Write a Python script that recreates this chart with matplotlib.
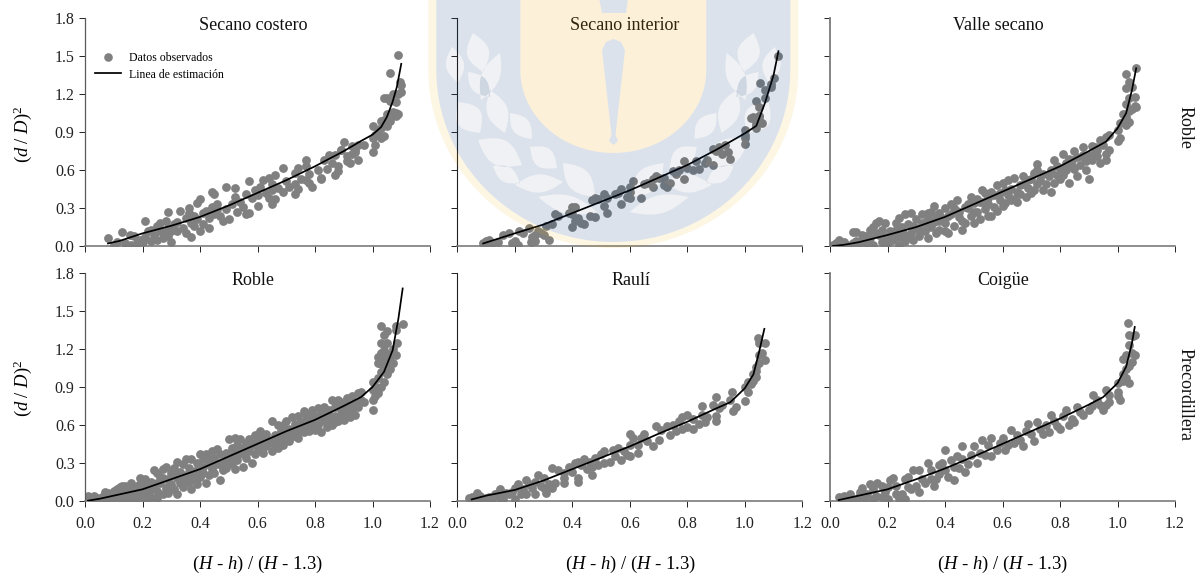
import numpy as np
import matplotlib
matplotlib.use("Agg")
import matplotlib.pyplot as plt
from matplotlib.path import Path
from matplotlib.patches import PathPatch
from matplotlib.transforms import Affine2D
from matplotlib.lines import Line2D

W, H = 1195, 575
plt.rcParams['font.family'] = ['Liberation Serif', 'DejaVu Serif']
plt.rcParams['mathtext.fontset'] = 'custom'
plt.rcParams['mathtext.rm'] = 'Liberation Serif'
plt.rcParams['mathtext.it'] = 'Liberation Serif:italic'

x_ticks = [0.0, 0.2, 0.4, 0.6, 0.8, 1.0, 1.2]
y_ticks = [0.0, 0.3, 0.6, 0.9, 1.2, 1.5, 1.8]

titles = ['Secano costero', 'Secano interior', 'Valle secano', 'Roble', 'Raulí', 'Coigüe']
row_labels = ['Roble', 'Precordillera']

obs_costero = [(.08,.06),(.10,.01),(.11,.03),(.13,.11),(.14,.02),(.155,.09),(.16,.01),(.17,.08),(.18,.02),(.19,.05),(.20,.03),(.21,.07),(.21,.20),(.22,.12),(.23,.13),(.23,.04),(.24,.09),(.25,.05),(.25,.16),(.26,.12),(.26,.18),(.27,.10),(.27,.06),(.28,.20),(.29,.14),(.29,.08),(.30,.03),(.30,.12),(.29,.27),(.31,.17),(.32,.12),(.32,.19),(.33,.28),(.34,.14),(.35,.10),(.35,.22),(.36,.26),(.36,.30),(.37,.07),(.37,.18),(.38,.24),(.38,.16),(.39,.34),(.39,.21),(.40,.12),(.41,.17),(.41,.26),(.42,.28),(.43,.14),(.43,.22),(.40,.37),(.44,.31),(.45,.25),(.46,.29),(.46,.33),(.47,.24),(.48,.20),(.44,.43),(.45,.41),(.49,.29),(.50,.21),(.51,.33),(.49,.47),(.52,.39),(.53,.27),(.54,.35),(.52,.46),(.55,.31),(.56,.41),(.57,.26),(.56,.25),(.58,.38),(.57,.51),(.59,.44),(.60,.32),(.60,.40),(.61,.47),(.62,.52),(.63,.42),(.64,.54),(.64,.38),(.65,.49),(.65,.44),(.66,.37),(.65,.33),(.67,.46),(.66,.56),(.69,.43),(.70,.51),(.71,.47),(.69,.62),(.73,.58),(.73,.49),(.74,.45),(.74,.62),(.75,.53),(.73,.41),(.77,.63),(.77,.52),(.78,.57),(.78,.50),(.79,.47),(.77,.68),(.81,.60),(.82,.54),(.83,.68),(.82,.53),(.84,.61),(.85,.72),(.86,.66),(.87,.72),(.88,.63),(.87,.56),(.89,.76),(.88,.59),(.91,.71),(.92,.66),(.89,.76),(.90,.82),(.93,.73),(.91,.67),(.93,.79),(.94,.76),(.95,.80),(.95,.68),(.94,.74),(.97,.80),
(1.00,.74),(1.00,.85),(1.00,.95),(1.01,.88),(1.01,.80),(1.02,.91),(1.03,.85),(1.03,.93),(1.03,.99),(1.04,.87),(1.04,1.00),(1.05,.95),(1.04,1.17),(1.05,1.04),(1.05,1.17),(1.06,1.01),(1.06,1.15),(1.07,1.06),(1.06,.99),(1.06,1.37),(1.08,1.03),(1.07,1.20),(1.08,1.05),(1.08,1.14),(1.09,1.04),(1.10,1.22),(1.087,1.51),(1.095,1.30),(1.10,1.27),(1.09,1.20)]

obs_interior = [(.09,.02),(.10,.04),(.10,.01),(.11,.05),(.12,.02),(.14,.03),(.16,.09),(.18,.10),(.19,.02),(.20,.04),(.21,.01),(.215,.12),(.23,.10),(.25,.14),(.255,.03),(.26,.07),(.27,.04),(.27,.09),(.28,.12),(.29,.10),(.30,.09),(.31,.16),(.32,.05),(.33,.17),(.34,.25),(.35,.24),(.39,.26),(.40,.31),(.41,.31),(.40,.25),(.40,.15),(.41,.20),(.42,.22),(.43,.18),(.44,.17),(.46,.24),(.48,.23),(.47,.36),(.48,.38),(.49,.37),(.51,.41),(.51,.32),(.52,.26),(.52,.38),(.55,.41),(.56,.42),(.57,.45),(.57,.33),(.59,.39),(.60,.47),(.60,.43),(.60,.38),(.61,.51),(.64,.38),(.65,.49),(.66,.50),(.68,.47),(.68,.53),(.69,.55),(.70,.54),(.72,.54),(.72,.48),(.73,.47),(.74,.50),(.75,.59),(.77,.60),(.76,.57),(.79,.53),(.79,.67),(.80,.62),(.82,.60),(.83,.67),(.84,.61),(.86,.66),(.87,.68),(.89,.64),(.89,.77),(.90,.75),(.91,.78),(.92,.73),(.93,.80),(.94,.74),(.95,.69),(1.0,.92),(1.0,.88),(1.0,.81),(1.0,.85),(1.02,1.01),(1.03,1.02),(1.04,.96),(1.04,.93),(1.05,1.03),(1.06,.97),(1.04,.98),(1.05,1.0),(1.04,1.15),(1.05,1.10),(1.05,1.03),(1.053,1.29),(1.07,1.23),(1.07,1.17),(1.09,1.28),(1.10,1.33),(1.09,1.26),(1.115,1.50)]

obs_valle = [(.01,.01),(.02,.02),(.03,.05),(.04,.01),(.05,.03),(.06,.01),(.08,.11),(.09,.11),(.08,.02),(.09,.04),(.10,.02),(.11,.05),(.12,.03),(.13,.02),(.14,.13),(.14,.06),(.15,.15),(.15,.01),(.16,.18),(.17,.20),(.17,.09),(.18,.13),(.18,.03),(.19,.18),(.19,.07),(.20,.02),(.21,.12),(.22,.05),(.22,.10),(.23,.13),(.24,.07),(.24,.01),(.24,.22),(.25,.12),(.26,.04),(.26,.09),(.26,.25),(.27,.17),(.28,.26),(.28,.10),(.29,.05),(.30,.14),(.30,.21),(.31,.08),(.32,.18),(.32,.25),(.33,.12),(.34,.06),(.34,.22),(.35,.27),(.35,.15),(.36,.19),(.37,.10),(.36,.32),(.38,.26),(.38,.13),(.39,.22),(.40,.30),(.40,.18),(.41,.10),(.42,.33),(.42,.25),(.43,.16),(.44,.36),(.44,.28),(.45,.23),(.46,.13),(.46,.20),(.47,.31),(.48,.30),(.49,.39),(.49,.24),(.50,.34),(.50,.18),(.51,.27),(.52,.21),(.53,.35),(.53,.44),(.54,.42),(.54,.29),(.55,.38),(.56,.43),(.56,.24),(.57,.31),(.58,.28),(.58,.48),(.59,.36),(.60,.32),(.60,.50),(.61,.44),(.62,.40),(.62,.52),(.63,.36),(.64,.54),(.65,.43),(.65,.35),(.66,.48),(.67,.55),(.68,.39),(.69,.46),(.70,.42),(.71,.58),(.72,.49),(.73,.52),(.74,.44),(.72,.65),(.72,.60),(.76,.55),(.77,.43),(.78,.68),(.78,.50),(.79,.63),(.80,.53),(.81,.56),(.81,.73),(.82,.60),(.83,.50),(.83,.69),(.84,.63),(.85,.75),(.86,.70),(.86,.55),(.87,.64),(.88,.78),(.88,.70),(.89,.60),(.90,.72),(.90,.53),(.91,.79),(.92,.78),(.93,.71),(.94,.84),(.94,.66),(.95,.80),(.96,.86),(.96,.73),(.97,.88),(.97,.76),(.96,.68),
(.12,.08),(.16,.10),(.20,.07),(.25,.15),(.29,.16),(.33,.18),(.37,.22),(.41,.24),(.45,.27),(.48,.33),(.52,.35),(.55,.33),(.59,.42),(.63,.45),(.67,.49),(.70,.53),(.74,.57),(.77,.60),(.80,.62),(.84,.68),(.88,.72),(.92,.74),
(.11,.09),(.18,.08),(.23,.18),(.27,.07),(.31,.13),(.34,.26),(.38,.20),(.40,.12),(.43,.30),(.47,.18),(.50,.27),(.51,.37),(.55,.24),(.57,.40),(.61,.34),(.64,.37),(.66,.41),(.69,.52),(.71,.44),(.75,.49),(.79,.56),(.82,.66),(.85,.61),(.89,.67),(.91,.68),(.93,.76),
(1.0,.83),(1.0,.92),(1.01,.85),(1.01,.97),(1.02,1.04),(1.02,.98),(1.03,1.12),(1.03,1.02),(1.04,1.07),(1.04,.98),(1.03,.96),(1.03,1.25),(1.03,1.36),(1.04,1.30),(1.04,1.17),(1.05,1.08),(1.05,1.26),(1.06,1.18),(1.06,1.11),(1.065,1.41),(1.065,1.10)]

obs_roble = [(.01,.04),(.02,.01),(.03,.04),(.03,.01),(.04,.02),(.05,.00),(.06,.03),(.07,.07),(.07,.01),(.08,.06),(.09,.03),(.09,.00),(.10,.08),(.10,.04),(.11,.09),(.11,.01),(.12,.05),(.12,.11),(.13,.03),(.13,.08),(.14,.00),(.14,.12),(.15,.06),(.15,.03),(.16,.14),(.16,.09),(.17,.01),(.17,.05),(.18,.12),(.18,.02),(.19,.18),(.19,.08),(.20,.04),(.20,.14),(.21,.17),(.21,.01),(.22,.10),(.22,.06),(.23,.15),(.23,.03),(.24,.24),(.24,.12),(.25,.22),(.25,.08),(.25,.02),(.26,.19),(.26,.14),(.27,.25),(.27,.05),(.28,.10),(.28,.27),(.29,.17),(.29,.06),(.30,.22),(.30,.13),(.31,.26),(.31,.09),(.32,.31),(.32,.18),(.32,.05),(.33,.23),(.33,.14),(.34,.29),(.34,.11),(.35,.33),(.35,.20),(.36,.26),(.36,.15),(.37,.33),(.37,.09),(.38,.23),(.38,.17),(.39,.30),(.39,.13),(.40,.37),(.40,.26),(.40,.19),(.41,.33),(.41,.22),(.42,.37),(.42,.14),(.43,.29),(.43,.20),(.44,.39),(.44,.25),(.45,.34),(.45,.22),(.46,.41),(.46,.29),(.47,.16),(.47,.37),(.48,.26),(.48,.24),(.49,.38),(.49,.32),(.50,.49),(.50,.29),(.51,.42),(.51,.35),(.52,.50),(.52,.25),(.53,.44),(.53,.32),(.54,.49),(.54,.38),(.55,.27),(.55,.42),(.56,.46),(.56,.34),(.57,.49),(.57,.39),(.58,.30),(.58,.44),(.59,.52),(.59,.37),(.60,.47),(.60,.41),(.61,.55),(.61,.44),(.62,.49),(.62,.38),(.63,.53),(.63,.43),(.64,.48),(.65,.63),(.65,.39),(.66,.52),(.66,.45),(.67,.60),(.67,.42),(.68,.55),(.68,.48),(.69,.60),(.69,.44),(.70,.63),(.70,.52),(.71,.57),(.71,.47),(.72,.66),(.72,.51),(.73,.61),(.73,.55),(.74,.67),(.74,.50),(.75,.59),(.75,.62),(.76,.71),(.76,.54),(.77,.64),(.77,.58),(.78,.68),(.78,.55),(.79,.72),(.79,.62),(.80,.67),(.80,.56),(.81,.73),(.81,.60),(.82,.69),(.82,.54),(.83,.74),(.83,.63),(.84,.67),(.84,.58),(.85,.72),(.85,.62),(.86,.80),(.86,.60),(.87,.74),(.87,.67),(.88,.80),(.88,.63),(.89,.72),(.89,.68),(.90,.78),(.90,.64),(.91,.81),(.91,.70),(.92,.75),(.92,.66),(.93,.83),(.93,.70),(.94,.78),(.94,.68),(.95,.85),(.95,.74),(.96,.86),(.96,.80),(.97,.78),
(.13,.12),(.15,.10),(.17,.10),(.19,.13),(.21,.09),(.23,.09),(.25,.14),(.27,.18),(.29,.12),(.31,.20),(.33,.19),(.35,.15),(.37,.21),(.39,.24),(.41,.27),(.43,.33),(.45,.29),(.47,.30),(.49,.26),(.51,.30),(.53,.38),(.55,.37),(.57,.44),(.59,.46),(.61,.49),(.63,.48),(.65,.46),(.67,.50),(.69,.52),(.71,.52),(.73,.51),(.75,.55),(.77,.68),(.79,.57),(.81,.66),(.83,.68),(.85,.66),(.87,.62),(.89,.76),(.91,.75),(.93,.76),
(1.0,.72),(1.0,.80),(1.0,.88),(1.0,.94),(1.01,.83),(1.01,.91),(1.02,.85),(1.02,.97),(1.02,1.09),(1.02,1.14),(1.03,.90),(1.03,1.02),(1.03,1.38),(1.03,1.25),(1.03,1.08),(1.03,1.17),(1.04,.94),(1.04,1.12),(1.04,1.05),(1.04,1.19),(1.04,1.31),(1.05,1.0),(1.05,1.25),(1.05,1.10),(1.05,1.16),(1.05,1.34),(1.06,1.14),(1.06,1.04),(1.07,1.20),(1.07,1.09),(1.08,1.15),(1.08,1.35),(1.085,1.25),(1.08,1.38),(1.105,1.40)]

obs_rauli = [(.04,.02),(.05,.03),(.06,.02),(.07,.06),(.08,.00),(.08,.04),(.10,.02),(.11,.03),(.12,.01),(.13,.05),(.14,.06),(.15,.09),(.15,.02),(.16,.01),(.17,.06),(.18,.05),(.19,.07),(.20,.01),(.20,.10),(.21,.13),(.22,.05),(.23,.09),(.24,.16),(.24,.05),(.25,.13),(.26,.10),(.27,.05),(.27,.15),(.28,.20),(.29,.12),(.30,.18),(.30,.10),(.31,.06),(.32,.13),(.33,.10),(.33,.26),(.34,.14),(.35,.24),(.37,.22),(.37,.14),(.37,.18),(.39,.27),(.40,.23),(.41,.30),(.42,.31),(.42,.18),(.42,.15),(.43,.28),(.44,.33),(.45,.25),(.46,.31),(.47,.27),(.47,.20),(.48,.34),(.49,.28),(.50,.37),(.51,.39),(.51,.30),(.53,.31),(.54,.40),(.55,.35),(.56,.42),(.57,.32),(.58,.39),(.59,.36),(.60,.53),(.60,.44),(.60,.35),(.61,.50),(.63,.38),(.63,.44),(.64,.50),(.65,.53),(.66,.47),(.68,.43),(.69,.59),(.70,.48),(.71,.56),(.73,.59),(.74,.52),(.75,.60),(.76,.55),(.77,.63),(.78,.57),(.78,.66),(.80,.68),(.80,.58),(.82,.65),(.82,.57),(.84,.61),(.85,.75),(.85,.68),(.86,.62),(.87,.66),(.89,.76),(.90,.82),(.90,.67),(.90,.63),(.91,.73),(.92,.76),(.95,.80),(.955,.86),(.96,.71),(.97,.74),(1.0,.79),(1.0,.90),(1.01,.94),(1.01,.86),(1.02,.92),(1.03,1.0),(1.03,.95),(1.04,1.06),(1.04,.98),(1.05,1.09),(1.05,1.15),(1.05,1.25),(1.047,1.29),(1.06,1.17),(1.07,1.11),(1.07,1.25),(1.04,1.03)]

obs_coigue = [(.03,.03),(.04,.02),(.05,.04),(.06,.02),(.07,.05),(.08,.01),(.09,.00),(.10,.03),(.105,.07),(.11,.10),(.12,.02),(.13,.05),(.14,.13),(.15,.01),(.15,.09),(.16,.04),(.165,.14),(.18,.12),(.18,.03),(.19,.07),(.20,.01),(.20,.11),(.21,.16),(.22,.18),(.23,.05),(.23,.12),(.24,.02),(.25,.05),(.26,.01),(.26,.17),(.27,.11),(.27,.19),(.28,.09),(.29,.24),(.30,.12),(.31,.07),(.31,.24),(.32,.17),(.33,.14),(.34,.30),(.35,.17),(.35,.24),(.36,.12),(.37,.17),(.38,.28),(.38,.21),(.39,.30),(.40,.40),(.40,.24),(.41,.19),(.42,.32),(.43,.27),(.43,.16),(.44,.35),(.45,.26),(.46,.43),(.46,.33),(.47,.23),(.48,.29),(.49,.36),(.50,.43),(.51,.30),(.52,.38),(.53,.48),(.54,.36),(.55,.44),(.56,.35),(.56,.50),(.58,.40),(.59,.46),(.60,.50),(.61,.40),(.62,.44),(.63,.56),(.64,.46),(.65,.52),(.66,.48),(.67,.43),(.68,.55),(.69,.61),(.70,.53),(.71,.47),(.72,.62),(.73,.57),(.74,.53),(.75,.60),(.76,.54),(.77,.68),(.78,.63),(.79,.59),(.80,.57),(.81,.67),(.82,.72),(.83,.60),(.84,.65),(.85,.62),(.86,.74),(.87,.70),(.88,.68),(.90,.72),(.91,.75),(.915,.84),(.93,.80),(.94,.76),(.95,.72),(.96,.76),(.96,.88),(.97,.84),(.97,.78),(1.0,.86),(1.0,.83),(1.0,.93),(1.01,.80),(1.02,1.0),(1.02,.95),(1.02,1.12),(1.03,1.04),(1.03,1.15),(1.03,.97),(1.04,1.07),(1.04,1.23),(1.04,.93),(1.05,1.10),(1.035,1.41),(1.04,1.31),(1.055,1.30),(1.06,1.31),(1.06,1.15),(1.05,1.17)]

line_costero_x = [.08,.12,.2,.3,.4,.5,.6,.7,.8,.9,.96,1.0,1.03,1.05,1.07,1.085,1.10]
line_costero_y = [.02,.04,.10,.16,.23,.32,.42,.52,.63,.75,.83,.88,.94,1.02,1.14,1.26,1.44]
line_interior_x = [.09,.2,.3,.4,.5,.6,.7,.8,.9,1.0,1.04,1.07,1.10,1.117]
line_interior_y = [.02,.10,.17,.26,.35,.44,.54,.64,.76,.89,.95,1.13,1.35,1.54]
line_valle_x = [.01,.05,.1,.2,.3,.4,.5,.6,.7,.8,.9,.96,1.0,1.03,1.05,1.065]
line_valle_y = [.00,.01,.03,.087,.15,.23,.33,.43,.53,.63,.75,.825,.93,1.05,1.23,1.405]
line_roble_x = [.01,.05,.1,.2,.3,.4,.5,.6,.7,.8,.9,.96,1.0,1.04,1.07,1.09,1.105]
line_roble_y = [.00,.015,.04,.09,.17,.25,.35,.45,.55,.64,.75,.82,.90,1.02,1.19,1.44,1.68]
line_rauli_x = [.05,.1,.2,.3,.4,.5,.6,.7,.8,.9,.95,1.0,1.03,1.05,1.068]
line_rauli_y = [.01,.04,.085,.16,.25,.34,.43,.53,.625,.73,.78,.89,1.0,1.18,1.36]
line_coigue_x = [.03,.1,.2,.3,.4,.5,.6,.7,.8,.9,.95,1.0,1.03,1.05,1.06]
line_coigue_y = [.005,.04,.09,.17,.255,.35,.45,.55,.65,.76,.82,.93,1.06,1.245,1.375]

observed = [obs_costero, obs_interior, obs_valle, obs_roble, obs_rauli, obs_coigue]
lines = [(line_costero_x, line_costero_y), (line_interior_x, line_interior_y), (line_valle_x, line_valle_y),
         (line_roble_x, line_roble_y), (line_rauli_x, line_rauli_y), (line_coigue_x, line_coigue_y)]

fig = plt.figure(figsize=(W / 100, H / 100), dpi=100, facecolor='white')

def fx(x): return x / W
def fy(y): return 1 - y / H

col_left = [85, 457.3, 830]
col_w = 345
row_top = [18.3, 273.3]
row_bot = [246, 500.7]
left_style = [('#5a5a5a', 0.9), ('#202020', 0.8), ('#7a7a7a', 1.3)]
title_x = [253, 625, 998, 253, 631, 1003]
title_y = [25, 25, 25, 281, 281, 281]

axes = []
for i in range(6):
    r, c = divmod(i, 3)
    ax = fig.add_axes([fx(col_left[c]), fy(row_bot[r]), col_w / W, (row_bot[r] - row_top[r]) / H])
    ax.patch.set_alpha(0)
    pts = np.array(observed[i])
    ax.scatter(pts[:, 0], pts[:, 1], s=40, color='#808080', linewidths=0, zorder=2, label='Datos observados')
    ax.plot(lines[i][0], lines[i][1], color='black', lw=1.25, zorder=3, label='Linea de estimación')
    ax.set_xlim(0, 1.2)
    ax.set_ylim(0, 1.8)
    ax.set_xticks(x_ticks)
    ax.set_yticks(y_ticks)
    ax.spines[['top', 'right']].set_visible(False)
    ax.spines['bottom'].set_color('#7a7a7a')
    ax.spines['bottom'].set_linewidth(1.2)
    ax.spines['left'].set_color(left_style[c][0])
    ax.spines['left'].set_linewidth(left_style[c][1])
    ax.tick_params(axis='x', direction='out', length=4.2, width=0.7, color='#222222', pad=6.5, labelsize=11.5,
                   labelcolor='#222222', labelbottom=(r == 1))
    ax.tick_params(axis='y', direction='out', length=4.2, width=0.7, color='#222222', pad=3.2, labelsize=11.5,
                   labelcolor='#222222', labelleft=(c == 0))
    if r == 1:
        ax.set_xticklabels([f'{t:.1f}' for t in x_ticks])
    if c == 0:
        ax.set_yticklabels([f'{t:.1f}' for t in y_ticks])
    fig.text(fx(title_x[i]), fy(title_y[i]), titles[i], ha='center', va='center', fontsize=13, color='#111111')
    axes.append(ax)

handles = [Line2D([], [], ls='none', marker='o', ms=6.2, color='#808080', mew=0),
           Line2D([], [], color='black', lw=1.25)]
axes[0].legend(handles, ['Datos observados', 'Linea de estimación'], loc='upper left',
               bbox_to_anchor=(0.029, 0.85), frameon=False, fontsize=8.5, handlelength=2.2,
               handletextpad=0.68, labelspacing=0.35, borderpad=0, borderaxespad=0)

ylab = r'$(\mathit{d}\ /\ \mathit{D})^2$'
xlab = r'($\mathit{H}$ - $\mathit{h}$) / ($\mathit{H}$ - 1.3)'
for yc in (134, 388):
    fig.text(fx(23), fy(yc), ylab, rotation=90, ha='center', va='center', fontsize=13.4)
for xc in (257, 630, 1002):
    fig.text(fx(xc), fy(564), xlab, ha='center', va='center', fontsize=13.4)
fig.text(fx(1185), fy(127), row_labels[0], rotation=270, ha='center', va='center', fontsize=13, color='#111111')
fig.text(fx(1185), fy(394), row_labels[1], rotation=270, ha='center', va='center', fontsize=13, color='#111111')

# faint institutional watermark laid over the page (reference pixel coordinates)
CX = 613.3
to_fig = Affine2D().scale(1 / W, -1 / H).translate(0, 1) + fig.transFigure

def shield(a, b, y0=70.0, top=-2.0):
    t = np.linspace(0, np.pi, 60)
    xs = CX + a * np.cos(t)
    ys = y0 + b * np.sin(t)
    return np.vstack([[CX + a, top], np.column_stack([xs, ys]), [CX - a, top]])

def leaf(x1, y1, x2, y2, w, mirror=False):
    w = w * 1.3
    t = np.linspace(0, 1, 14)
    p1, p2 = np.array([x1, y1], float), np.array([x2, y2], float)
    d = p2 - p1
    n = np.array([-d[1], d[0]]) / np.hypot(*d)
    a = p1 + np.outer(t, d) + np.outer(np.sin(np.pi * t) * w / 2, n)
    b = p1 + np.outer(t[::-1], d) - np.outer(np.sin(np.pi * t[::-1]) * w / 2, n)
    poly = np.vstack([a, b])
    if mirror:
        poly[:, 0] = 2 * CX - poly[:, 0]
    return poly

def oriented(poly, positive=True):
    x, y = poly[:, 0], poly[:, 1]
    area = 0.5 * np.sum(x * np.roll(y, -1) - np.roll(x, -1) * y)
    return poly if (area > 0) == positive else poly[::-1]

def compound(polys):
    return Path.make_compound_path(*[Path(np.vstack([p, p[0]]), closed=True) for p in polys])

leaf_specs = [(473, 33, 483, 72, 17), (452, 47, 458, 83, 14), (500, 53, 481, 100, 14), (468, 72, 490, 97, 13),
              (490, 90, 505, 133, 16), (458, 102, 480, 133, 20), (510, 113, 532, 139, 14), (478, 140, 522, 165, 20),
              (530, 147, 557, 168, 16), (493, 166, 520, 183, 12), (515, 185, 563, 182, 14), (563, 163, 595, 197, 18),
              (538, 197, 597, 212, 14)]
leaves = [leaf(*s) for s in leaf_specs] + [leaf(*s, mirror=True) for s in leaf_specs]

outer_y = shield(185, 178)
outer_b = shield(177, 172)
inner = shield(93, 83)
spike_w = np.array([[602, 50], [606, 42], [613.5, 39], [621, 42], [625, 50], [615.5, 135], [618, 141], [613.5, 145], [609, 141], [611.5, 135]], float)
stem = np.array([[599, -2], [628, -2], [626, 13], [602, 13]], float)

blue = compound([oriented(outer_b, True), oriented(inner, False)] + [oriented(l, False) for l in leaves]
                + [oriented(spike_w, True), oriented(stem, True)])
cream = compound([oriented(inner, True), oriented(spike_w, False), oriented(stem, False)])
yellow = compound([oriented(outer_y, True), oriented(outer_b, False)])
leaf_path = compound([oriented(l, True) for l in leaves])

for path, col, alpha in [(yellow, (241 / 255, 175 / 255, 0), 0.11), (cream, (241 / 255, 155 / 255, 0), 0.15),
                         (blue, (0, 55 / 255, 119 / 255), 0.14), (leaf_path, (0, 30 / 255, 70 / 255), 0.06)]:
    fig.add_artist(PathPatch(path, facecolor=col, edgecolor='none', alpha=alpha, transform=to_fig, zorder=10))

fig.savefig('out.png', dpi=100, facecolor='white')
